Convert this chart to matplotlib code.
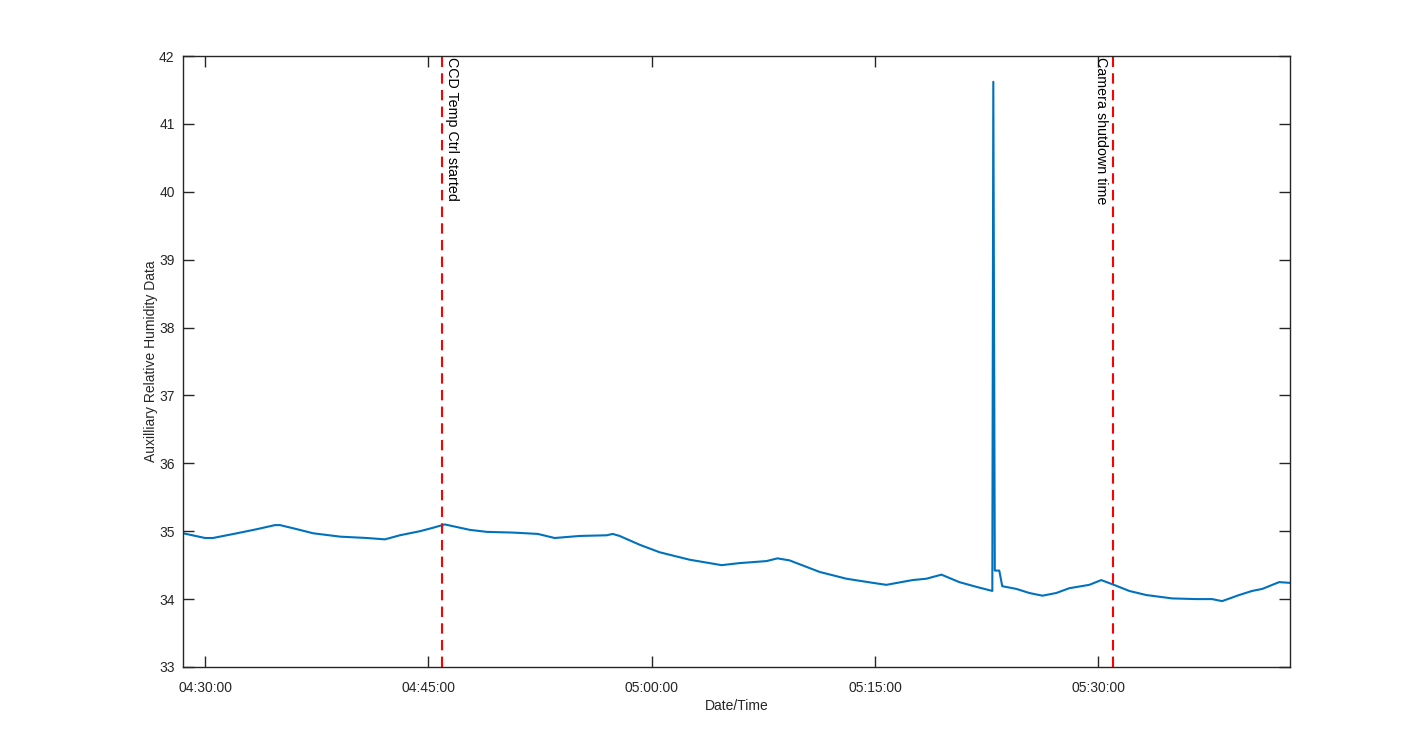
import pandas as pd
import numpy as np
import matplotlib
matplotlib.use("Agg")
import matplotlib.pyplot as plt
import matplotlib.dates as mdates

plt.rcParams['font.family'] = ['Liberation Sans', 'DejaVu Sans']

day = "2016-01-01 "

# humidity readings
times = ["04:28:31", "04:30:00", "04:30:32", "04:32:09", "04:33:29", "04:34:42",
         "04:35:02", "04:36:10", "04:37:15", "04:39:04", "04:40:52", "04:42:05",
         "04:43:05", "04:44:26", "04:45:18", "04:46:06", "04:47:47", "04:48:56",
         "04:50:40", "04:52:21", "04:53:29", "04:55:10", "04:56:59", "04:57:23",
         "04:57:51", "04:59:12", "05:00:32", "05:02:33", "05:04:42", "05:05:54",
         "05:07:43", "05:08:27", "05:09:16", "05:11:17", "05:13:05", "05:14:50",
         "05:15:46", "05:17:31", "05:18:27", "05:19:28", "05:20:40", "05:21:49",
         "05:22:53", "05:22:57", "05:23:03", "05:23:21", "05:23:33", "05:24:30",
         "05:25:22", "05:26:15", "05:27:11", "05:28:03", "05:29:24", "05:30:12",
         "05:30:56", "05:32:05", "05:33:13", "05:34:58", "05:36:35", "05:37:39",
         "05:38:19", "05:39:28", "05:40:20", "05:41:01", "05:42:09", "05:42:49"]
humidity = [34.97, 34.90, 34.90, 34.97, 35.03, 35.09,
            35.09, 35.03, 34.97, 34.92, 34.90, 34.88,
            34.94, 35.00, 35.05, 35.10, 35.02, 34.99,
            34.98, 34.96, 34.90, 34.93, 34.94, 34.96,
            34.93, 34.80, 34.69, 34.58, 34.50, 34.53,
            34.56, 34.60, 34.57, 34.40, 34.30, 34.24,
            34.21, 34.28, 34.30, 34.36, 34.25, 34.18,
            34.12, 41.62, 34.42, 34.42, 34.19, 34.15,
            34.09, 34.05, 34.09, 34.16, 34.21, 34.28,
            34.22, 34.12, 34.06, 34.01, 34.00, 34.00,
            33.97, 34.06, 34.12, 34.15, 34.25, 34.24]

event_times = ["04:45:56", "05:31:00"]
event_labels = ["CCD Temp Ctrl started", "Camera shutdown time"]

x_ticks = ["04:30:00", "04:45:00", "05:00:00", "05:15:00", "05:30:00"]
y_ticks = [33, 34, 35, 36, 37, 38, 39, 40, 41, 42]

t = pd.to_datetime([day + s for s in times])
ev = pd.to_datetime([day + s for s in event_times])
xt = pd.to_datetime([day + s for s in x_ticks])

fig = plt.figure(figsize=(14.25, 7.5), dpi=100)
ax = fig.add_axes([0.1284, 0.1107, 0.7769, 0.8146])

ax.plot(t, humidity, color="#0072BD", linewidth=1.5)

for i in range(len(ev)):
    ax.axvline(ev[i], color="#FF0000", linestyle=(0, (5, 3)), linewidth=1.5)
ax.text(ev[0] + pd.Timedelta(seconds=10), 41.98, event_labels[0], rotation=-90,
        ha="left", va="top", fontsize=10.3, color="black")
ax.text(ev[1] - pd.Timedelta(seconds=20), 41.98, event_labels[1], rotation=-90,
        ha="right", va="top", fontsize=10.3, color="black")

ax.set_xlim(pd.Timestamp(day + "04:28:31"), pd.Timestamp(day + "05:42:53"))
ax.set_ylim(33, 42)
ax.set_xticks(xt)
ax.xaxis.set_major_formatter(mdates.DateFormatter("%H:%M:%S"))
ax.set_yticks(y_ticks)

for sp in ax.spines.values():
    sp.set_color("#262626")
    sp.set_linewidth(1.0)
ax.tick_params(direction="in", length=8, width=1.0, color="#262626",
               labelcolor="#262626", labelsize=10, top=True, right=True)
ax.tick_params(axis="x", pad=10)
ax.tick_params(axis="y", pad=6)

ax.set_xlabel("Date/Time", fontsize=10, color="#262626", labelpad=3)
ax.set_ylabel("Auxilliary Relative Humidity Data", fontsize=10, color="#262626", labelpad=1)

fig.savefig("out.png", dpi=100)
